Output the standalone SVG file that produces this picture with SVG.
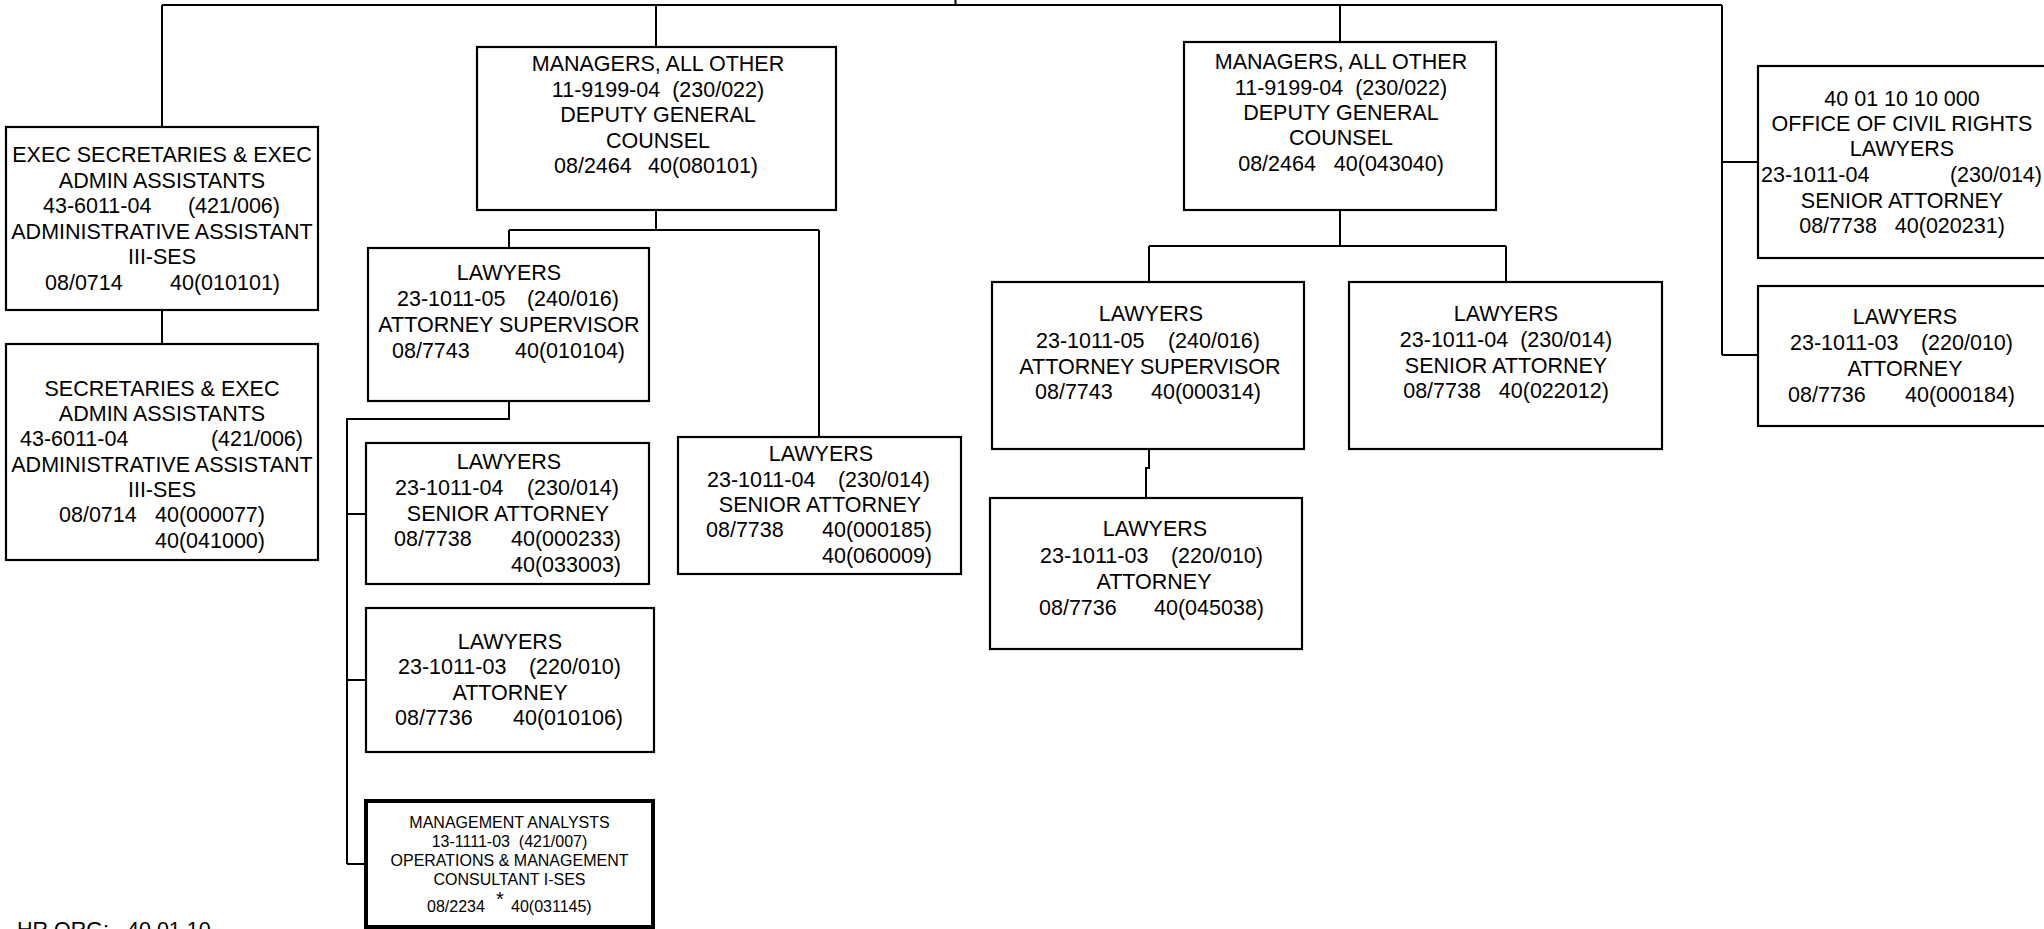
<svg xmlns="http://www.w3.org/2000/svg" width="2044" height="929" viewBox="0 0 2044 929">
  <style>
    .box { fill: #fff; stroke: #000; stroke-width: 2.2; }
    .heavy { stroke-width: 4; }
    .wire { fill: none; stroke: #000; stroke-width: 2; }
    text { font-family: "Liberation Sans", Arial, sans-serif; font-size: 21.5px; fill: #000; }
    .c { text-anchor: middle; }
    .e { text-anchor: end; }
    .sm { font-size: 16px; }
  </style>
  <rect width="2044" height="929" fill="#fff"/>

  <!-- reporting lines -->
  <g id="connectors">
    <path class="wire" d="M955.5 0V5M162 5H1722"/>
    <path class="wire" d="M162 5V127M162 310V344"/>
    <path class="wire" d="M656 5V47M656 210V230M509 230H819M509 230V248M819 230V437"/>
    <path class="wire" d="M509 401V419H347V864M347 514H366M347 680H366M347 864H366"/>
    <path class="wire" d="M1340 5V42M1340 210V246M1149 246H1506M1149 246V282M1506 246V282"/>
    <path class="wire" d="M1149 449V468H1146V498"/>
    <path class="wire" d="M1722 5V355M1722 162H1758M1722 355H1758"/>
  </g>

  <g id="exec-secretaries">
    <rect class="box" x="6" y="127" width="312" height="183"/>
    <text class="c" x="162" y="162">EXEC SECRETARIES &amp; EXEC</text>
    <text class="c" x="162" y="187.5">ADMIN ASSISTANTS</text>
    <text x="43" y="213">43-6011-04</text>
    <text class="e" x="280" y="213">(421/006)</text>
    <text class="c" x="162" y="238.5">ADMINISTRATIVE ASSISTANT</text>
    <text class="c" x="162" y="264">III-SES</text>
    <text x="45" y="289.5">08/0714</text>
    <text class="e" x="280" y="289.5">40(010101)</text>
  </g>

  <g id="secretaries">
    <rect class="box" x="6" y="344" width="312" height="216"/>
    <text class="c" x="162" y="396">SECRETARIES &amp; EXEC</text>
    <text class="c" x="162" y="421">ADMIN ASSISTANTS</text>
    <text x="20" y="446">43-6011-04</text>
    <text class="e" x="303" y="446">(421/006)</text>
    <text class="c" x="162" y="471.5">ADMINISTRATIVE ASSISTANT</text>
    <text class="c" x="162" y="496.5">III-SES</text>
    <text x="59" y="522">08/0714</text>
    <text x="155" y="522">40(000077)</text>
    <text x="155" y="548">40(041000)</text>
  </g>

  <g id="deputy-counsel-1">
    <rect class="box" x="477" y="47" width="359" height="163"/>
    <text class="c" x="658" y="71">MANAGERS, ALL OTHER</text>
    <text class="c" x="658" y="96.5" xml:space="preserve">11-9199-04  (230/022)</text>
    <text class="c" x="658" y="122">DEPUTY GENERAL</text>
    <text class="c" x="658" y="147.5">COUNSEL</text>
    <text x="554" y="173">08/2464</text>
    <text class="e" x="758" y="173">40(080101)</text>
  </g>

  <g id="attorney-supervisor-1">
    <rect class="box" x="368" y="248" width="281" height="153"/>
    <text class="c" x="509" y="280">LAWYERS</text>
    <text x="397" y="306">23-1011-05</text>
    <text class="e" x="619" y="306">(240/016)</text>
    <text class="c" x="509" y="331.5">ATTORNEY SUPERVISOR</text>
    <text x="392" y="357.5">08/7743</text>
    <text class="e" x="625" y="357.5">40(010104)</text>
  </g>

  <g id="senior-attorney-1">
    <rect class="box" x="366" y="443" width="283" height="141"/>
    <text class="c" x="509" y="469">LAWYERS</text>
    <text x="395" y="495">23-1011-04</text>
    <text class="e" x="619" y="495">(230/014)</text>
    <text class="c" x="508" y="521">SENIOR ATTORNEY</text>
    <text x="394" y="546">08/7738</text>
    <text class="e" x="621" y="546">40(000233)</text>
    <text class="e" x="621" y="572">40(033003)</text>
  </g>

  <g id="attorney-1">
    <rect class="box" x="366" y="608" width="288" height="144"/>
    <text class="c" x="510" y="649">LAWYERS</text>
    <text x="398" y="674">23-1011-03</text>
    <text class="e" x="621" y="674">(220/010)</text>
    <text class="c" x="510" y="700">ATTORNEY</text>
    <text x="395" y="725">08/7736</text>
    <text class="e" x="623" y="725">40(010106)</text>
  </g>

  <g id="management-analyst">
    <rect class="box heavy" x="366" y="801" width="287" height="126"/>
    <text class="c sm" x="509.5" y="828">MANAGEMENT ANALYSTS</text>
    <text class="c sm" x="509.5" y="847" xml:space="preserve">13-1111-03  (421/007)</text>
    <text class="c sm" x="509.5" y="866">OPERATIONS &amp; MANAGEMENT</text>
    <text class="c sm" x="509.5" y="885">CONSULTANT I-SES</text>
    <text class="sm" x="427" y="911.5">08/2234</text>
    <text x="496" y="906" style="font-size:20px">*</text>
    <text class="sm" x="511" y="911.5">40(031145)</text>
  </g>

  <g id="senior-attorney-2">
    <rect class="box" x="678" y="437" width="283" height="137"/>
    <text class="c" x="821" y="461">LAWYERS</text>
    <text x="707" y="486.5">23-1011-04</text>
    <text class="e" x="930" y="486.5">(230/014)</text>
    <text class="c" x="820" y="511.5">SENIOR ATTORNEY</text>
    <text x="706" y="537">08/7738</text>
    <text class="e" x="932" y="537">40(000185)</text>
    <text class="e" x="932" y="563">40(060009)</text>
  </g>

  <g id="deputy-counsel-2">
    <rect class="box" x="1184" y="42" width="312" height="168"/>
    <text class="c" x="1341" y="69">MANAGERS, ALL OTHER</text>
    <text class="c" x="1341" y="95" xml:space="preserve">11-9199-04  (230/022)</text>
    <text class="c" x="1341" y="120">DEPUTY GENERAL</text>
    <text class="c" x="1341" y="145">COUNSEL</text>
    <text class="c" x="1341" y="171" xml:space="preserve">08/2464   40(043040)</text>
  </g>

  <g id="attorney-supervisor-2">
    <rect class="box" x="992" y="282" width="312" height="167"/>
    <text class="c" x="1151" y="321">LAWYERS</text>
    <text x="1036" y="347.5">23-1011-05</text>
    <text class="e" x="1260" y="347.5">(240/016)</text>
    <text class="c" x="1150" y="373.5">ATTORNEY SUPERVISOR</text>
    <text x="1035" y="398.5">08/7743</text>
    <text class="e" x="1261" y="398.5">40(000314)</text>
  </g>

  <g id="senior-attorney-3">
    <rect class="box" x="1349" y="282" width="313" height="167"/>
    <text class="c" x="1506" y="321">LAWYERS</text>
    <text class="c" x="1506" y="346.5" xml:space="preserve">23-1011-04  (230/014)</text>
    <text class="c" x="1506" y="372.5">SENIOR ATTORNEY</text>
    <text class="c" x="1506" y="397.5" xml:space="preserve">08/7738   40(022012)</text>
  </g>

  <g id="attorney-2">
    <rect class="box" x="990" y="498" width="312" height="151"/>
    <text class="c" x="1155" y="536">LAWYERS</text>
    <text x="1040" y="562.5">23-1011-03</text>
    <text class="e" x="1263" y="562.5">(220/010)</text>
    <text class="c" x="1154" y="588.5">ATTORNEY</text>
    <text x="1039" y="615">08/7736</text>
    <text class="e" x="1264" y="615">40(045038)</text>
  </g>

  <g id="civil-rights-senior-attorney">
    <rect class="box" x="1758" y="66" width="300" height="192"/>
    <text class="c" x="1902" y="106">40 01 10 10 000</text>
    <text class="c" x="1902" y="130.5">OFFICE OF CIVIL RIGHTS</text>
    <text class="c" x="1902" y="156">LAWYERS</text>
    <text x="1761" y="182">23-1011-04</text>
    <text class="e" x="2042" y="182">(230/014)</text>
    <text class="c" x="1902" y="207.5">SENIOR ATTORNEY</text>
    <text class="c" x="1902" y="233" xml:space="preserve">08/7738   40(020231)</text>
  </g>

  <g id="civil-rights-attorney">
    <rect class="box" x="1758" y="286" width="300" height="140"/>
    <text class="c" x="1905" y="324">LAWYERS</text>
    <text x="1790" y="350">23-1011-03</text>
    <text class="e" x="2013" y="350">(220/010)</text>
    <text class="c" x="1905" y="375.5">ATTORNEY</text>
    <text x="1788" y="401.5">08/7736</text>
    <text class="e" x="2015" y="401.5">40(000184)</text>
  </g>

  <g id="org-code">
    <text x="17" y="937">HR ORG:</text>
    <text x="127" y="937">40 01 10</text>
  </g>
</svg>
